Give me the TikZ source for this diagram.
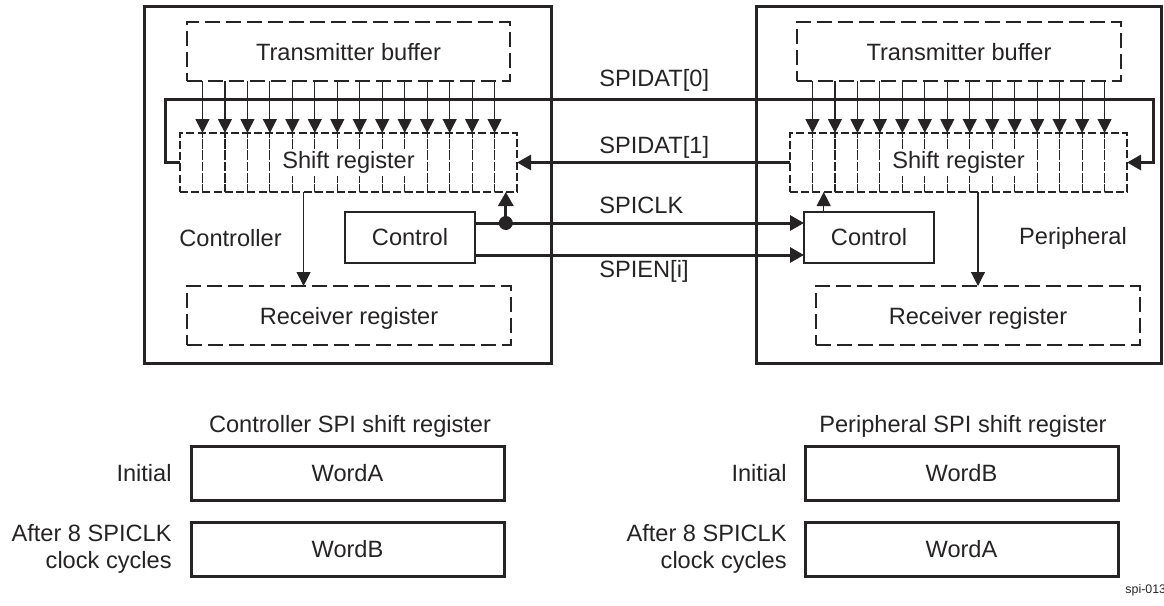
\documentclass[tikz,border=0pt]{standalone}
\usepackage{fontspec}
\setmainfont{Liberation Sans}
\usetikzlibrary{arrows.meta,positioning}
\definecolor{tigray}{RGB}{38,35,36}
\newcommand\CellW{22.47}
\tikzset{
  every picture/.style={
    font=\fontsize{11.8}{13.5}\selectfont
  },
  outerbox/.style={
    draw=tigray,
    line width=1.5pt
  },
  dashbox/.style={
    draw=tigray,
    text=tigray,
    line width=1.2pt,
    dash pattern=on 7.5pt off 3pt,
    inner sep=0pt,
    outer sep=0pt,
    text depth=0pt
  },
  cellbox/.style={
    draw=tigray,
    line width=0.6pt,
    dash pattern=on 4pt off 1.6pt,
    minimum width=11.235pt,
    minimum height=29.5pt,
    inner sep=0pt,
    outer sep=0pt
  },
  ctrlbox/.style={
    draw=tigray,
    text=tigray,
    line width=1.2pt,
    minimum width=65pt,
    minimum height=25.5pt,
    inner sep=0pt,
    outer sep=0pt
  },
  wordbox/.style={
    draw=tigray,
    text=tigray,
    line width=1.5pt,
    minimum width=156.5pt,
    minimum height=27pt,
    inner sep=0pt,
    outer sep=0pt
  },
  lbl/.style={
    text=tigray,
    inner sep=0pt
  },
  sig/.style={
    draw=tigray,
    line width=1.5pt,
    -{Triangle[width=7.5pt,length=7pt]}
  },
  arr/.style={
    draw=tigray,
    line width=0.6pt,
    -{Triangle[width=7pt,length=7pt]}
  }
}

\begin{document}
\begin{tikzpicture}[x=0.5pt,y=-0.5pt]
  \useasboundingbox (0,0) rectangle (1164,606);

  % outer boxes
  \draw[outerbox] (144,6) rectangle (551,363);
  \draw[outerbox] (756,6) rectangle (1161,363);

  % controller side
  \node[dashbox, minimum width=161.5pt, minimum height=29.5pt] (txL) at (348.5,51.5) {Transmitter buffer};
  \foreach \i in {1,...,15}
    \node[cellbox] (cL\i) at (180+\CellW*\i-\CellW/2,162.5) {};
  \node[lbl, fill=white, inner sep=1pt] (shL) at (348.5,162.5) {Shift register};
  \foreach \i in {1,...,14}
    \draw[arr] (cL\i.north east |- txL.south) -- (cL\i.north east);
  \node[dashbox, minimum width=162pt, minimum height=29.5pt] (rxL) at (349,315.5) {Receiver register};
  \draw[arr] (cL6.south) -- (cL6.south |- rxL.north);
  \node[ctrlbox] (ctL) at (410,237.5) {Control};
  \node[lbl] (nmL) at (230.5,238) {Controller};

  % peripheral side
  \node[dashbox, minimum width=162pt, minimum height=29.5pt] (txR) at (959,51.5) {Transmitter buffer};
  \foreach \i in {1,...,15}
    \node[cellbox] (cR\i) at (790+\CellW*\i-\CellW/2,162.5) {};
  \node[lbl, fill=white, inner sep=1pt] (shR) at (958.5,162.5) {Shift register};
  \foreach \i in {1,...,14}
    \draw[arr] (cR\i.north east |- txR.south) -- (cR\i.north east);
  \node[dashbox, minimum width=162pt, minimum height=29.5pt] (rxR) at (978,315.5) {Receiver register};
  \draw[arr] (rxR.north |- cR1.south) -- (rxR.north);
  \node[ctrlbox] (ctR) at (869,237.5) {Control};
  \draw[arr] (ctR.north -| cR2.south) -- (cR2.south);
  \node[lbl] (nmR) at (1073,238) {Peripheral};

  % signals
  \coordinate (clkL) at ([yshift=7.25pt]ctL.east);
  \coordinate (clkR) at ([yshift=7.25pt]ctR.west);
  \coordinate (enL) at ([yshift=-8.75pt]ctL.east);
  \coordinate (enR) at ([yshift=-8.75pt]ctR.west);
  \draw[sig] (clkL) -- (clkR);
  \draw[sig] (enL) -- (enR);
  \coordinate (clkdot) at (clkL -| cL15.south);
  \fill[tigray] (clkdot) circle (3.5pt);
  \draw[sig] (clkdot) -- (cL15.south);
  \coordinate (d0L) at (165,99);
  \coordinate (d0R) at (1153,99);
  \draw[sig] (cL1.west) -| (d0L) -| (cR15.east -| d0R) -- (cR15.east);
  \draw[sig] (cR1.west) -- (cL15.east);

  \node[lbl, anchor=base west] (lD0) at (599,86) {SPIDAT[0]};
  \node[lbl, anchor=base west] (lD1) at (599,153) {SPIDAT[1]};
  \node[lbl, anchor=base west] (lClk) at (599,213) {SPICLK};
  \node[lbl, anchor=base west] (lEn) at (599,277) {SPIEN[i]};

  % shift register contents
  \node[lbl] (ttlL) at (350,426) {Controller SPI shift register};
  \node[wordbox] (waL) at (347.5,473) {WordA};
  \node[wordbox] (wbL) at (347.5,549) {WordB};
  \node[lbl, anchor=east] (iniL) at (172,473) {Initial};
  \node[lbl, anchor=east, align=right] (aftL) at (172,549) {After 8 SPICLK\\clock cycles};

  \node[lbl] (ttlR) at (963,426) {Peripheral SPI shift register};
  \node[wordbox] (waR) at (961.5,473) {WordB};
  \node[wordbox] (wbR) at (961.5,549) {WordA};
  \node[lbl, anchor=east] (iniR) at (787,473) {Initial};
  \node[lbl, anchor=east, align=right] (aftR) at (787,549) {After 8 SPICLK\\clock cycles};

  \node[lbl, anchor=base west, font=\fontsize{6.2}{7}\selectfont] (fig) at (1125,593) {spi-013};
\end{tikzpicture}
\end{document}
